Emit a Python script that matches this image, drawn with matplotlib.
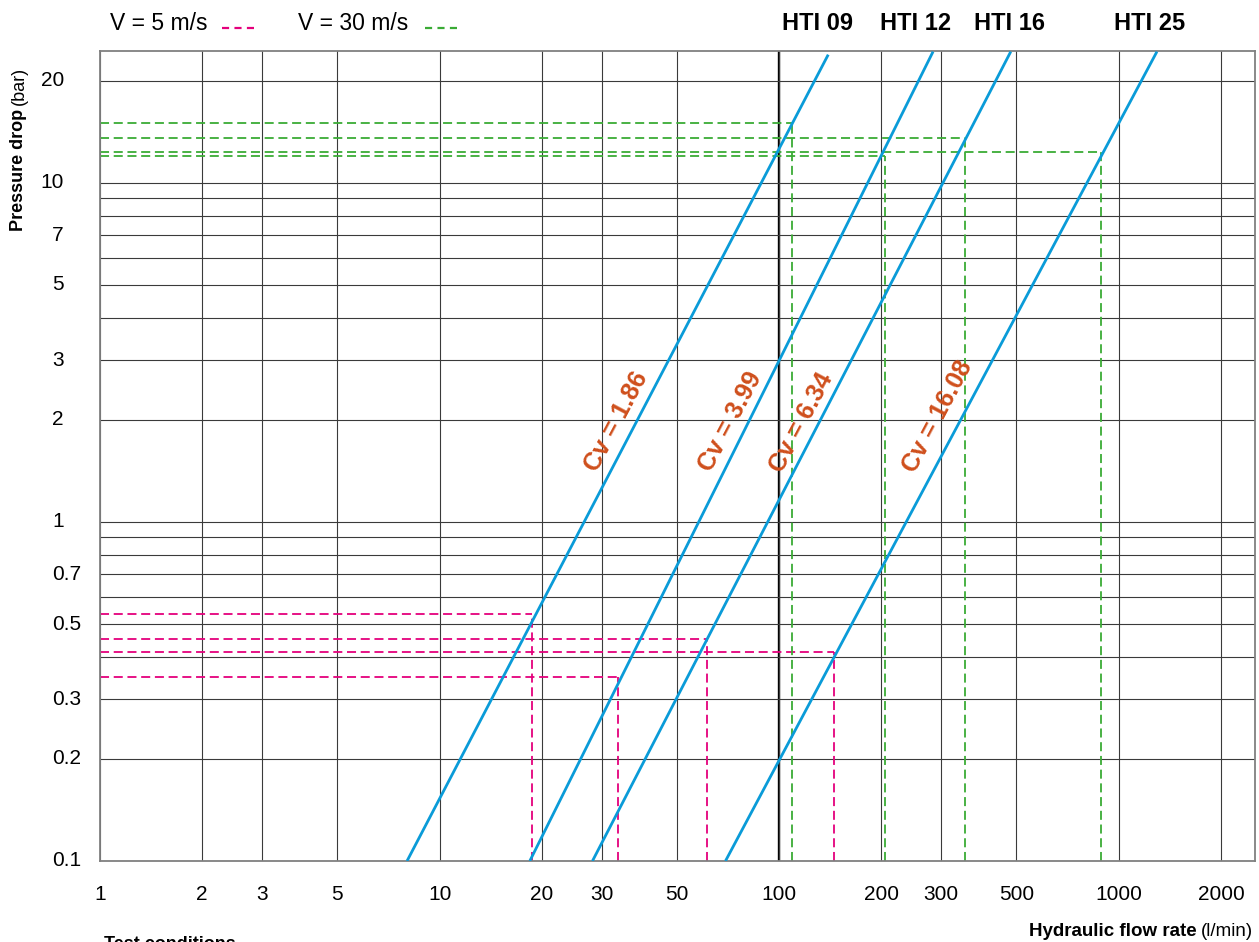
import matplotlib
matplotlib.use("Agg")
import matplotlib.pyplot as plt
from matplotlib.lines import Line2D
from matplotlib.ticker import NullLocator
import matplotlib.transforms as mtransforms

plt.rcParams['font.family'] = ['Liberation Sans', 'DejaVu Sans']

# valves
models = ["HTI 09", "HTI 12", "HTI 16", "HTI 25"]
cv_values = ["1.86", "3.99", "6.34", "16.08"]

# Cv curves: start at 0.1 bar, end at the top
cv_q_start = [8.02, 18.44, 28.2, 69.5]
cv_dp_start = [0.1, 0.1, 0.1, 0.1]
cv_q_end = [139.5, 284, 481, 1296]
cv_dp_end = [23.9, 24.4, 24.4, 24.4]

# operating points V = 5 m/s (pink) and V = 30 m/s (green)
v5_q = [18.75, 33.6, 61.5, 145]
v5_dp = [0.537, 0.35, 0.451, 0.414]
v30_q = [109, 205, 353, 889]
v30_dp = [15.05, 12.0, 13.54, 12.35]

x_ticks = [1, 2, 3, 5, 10, 20, 30, 50, 100, 200, 300, 500, 1000, 2000]
x_labels = ["1", "2", "3", "5", "10", "20", "30", "50", "100", "200", "300", "500", "1000", "2000"]
y_grid = [0.1, 0.2, 0.3, 0.4, 0.5, 0.6, 0.7, 0.8, 0.9,
          1, 2, 3, 4, 5, 6, 7, 8, 9, 10, 20]
y_ticks = [0.1, 0.2, 0.3, 0.5, 0.7, 1, 2, 3, 5, 7, 10, 20]
y_labels = ["0.1", "0.2", "0.3", "0.5", "0.7", "1", "2", "3", "5", "7", "10", "20"]

BLUE = "#0a9bd8"
PINK = "#e4007c"
GREEN = "#3aab35"
ORANGE = "#cf4f1c"
GRID = "#3a3a3a"

W, H = 1259, 942
fig = plt.figure(figsize=(W / 100, H / 100), dpi=100)
ax = fig.add_axes([100 / W, (H - 861) / H, (1255 - 100) / W, (861 - 51) / H])
ax.set_xscale('log')
ax.set_yscale('log')
ax.set_xlim(1, 2520)
ax.set_ylim(0.1, 24.5)

ax.xaxis.set_minor_locator(NullLocator())
ax.yaxis.set_minor_locator(NullLocator())
ax.set_xticks(x_ticks, x_labels)
ax.set_yticks(y_grid, [""] * len(y_grid))
ax.tick_params(axis='x', length=0, pad=17, labelsize=15)
ax.tick_params(axis='y', length=0)
ax.grid(True, color=GRID, lw=0.8, zorder=0)
ax.axvline(100, color='black', lw=1.7, zorder=1)
for s in ax.spines.values():
    s.set_color('#808080')
    s.set_linewidth(1.3)

# y labels: integers right-aligned, decimals hang to the right
trans = mtransforms.blended_transform_factory(fig.transFigure, ax.transData)
for v, lab in zip(y_ticks, y_labels):
    if "." in lab:
        ax.text(52 / W, v, lab, transform=trans, ha='left', va='center', fontsize=15)
    else:
        ax.text(64 / W, v, lab, transform=trans, ha='right', va='center', fontsize=15)

dash = dict(lw=1.3, dashes=(5, 2.6))
for q, dp in zip(v5_q, v5_dp):
    ax.plot([1, q], [dp, dp], color=PINK, zorder=2, **dash)
    ax.plot([q, q], [0.1, dp], color=PINK, zorder=2, **dash)
for q, dp in zip(v30_q, v30_dp):
    ax.plot([1, q], [dp, dp], color=GREEN, zorder=2, **dash)
    ax.plot([q, q], [0.1, dp], color=GREEN, zorder=2, **dash)

for i in range(len(models)):
    ax.plot([cv_q_start[i], cv_q_end[i]], [cv_dp_start[i], cv_dp_end[i]],
            color=BLUE, lw=2.0, zorder=3, solid_capstyle='butt')

# Cv labels
label_pos = [(33.1, 1.98), (71.7, 1.98), (116, 1.96), (293, 2.05)]
for (lx, ly), cv in zip(label_pos, cv_values):
    ax.text(lx, ly, f"Cv = {cv}", color=ORANGE, fontsize=18, fontweight='bold',
            rotation=62, ha='center', va='center', rotation_mode='anchor', zorder=5)

# top legend
fig.text(110 / W, 1 - 24 / H, "V = 5 m/s", fontsize=16.5, ha='left', va='center')
fig.add_artist(Line2D([222 / W, 258 / W], [1 - 28 / H, 1 - 28 / H], color=PINK,
                      lw=1.6, dashes=(3.2, 2.4), transform=fig.transFigure))
fig.text(298 / W, 1 - 24 / H, "V = 30 m/s", fontsize=16.5, ha='left', va='center')
fig.add_artist(Line2D([425 / W, 461 / W], [1 - 28 / H, 1 - 28 / H], color=GREEN,
                      lw=1.6, dashes=(3.2, 2.4), transform=fig.transFigure))

for name, px in zip(models, [818, 916, 1009, 1150]):
    fig.text(px / W, 1 - 23 / H, name, fontsize=17, fontweight='bold',
             ha='center', va='center')

# axis titles, bold part followed by the unit in regular weight
renderer = fig.canvas.get_renderer()
t = fig.text(19 / W, 1 - 231 / H, "Pressure drop", rotation=90, fontsize=13,
             fontweight='bold', ha='center', va='bottom')
bb = t.get_window_extent(renderer)
fig.text(19 / W, (bb.y1 + 4) / H, "(bar)", rotation=90, fontsize=13,
         ha='center', va='bottom')

t = fig.text(1253 / W, 1 - 932 / H, "(l/min)", fontsize=13.5, ha='right', va='center')
bb = t.get_window_extent(renderer)
fig.text((bb.x0 - 4) / W, 1 - 932 / H, "Hydraulic flow rate", fontsize=13.5,
         fontweight='bold', ha='right', va='center')
fig.text(104 / W, 1 - 936 / H, "Test conditions", fontsize=13,
         fontweight='bold', ha='left', va='top')

fig.savefig("out.png", dpi=100)
